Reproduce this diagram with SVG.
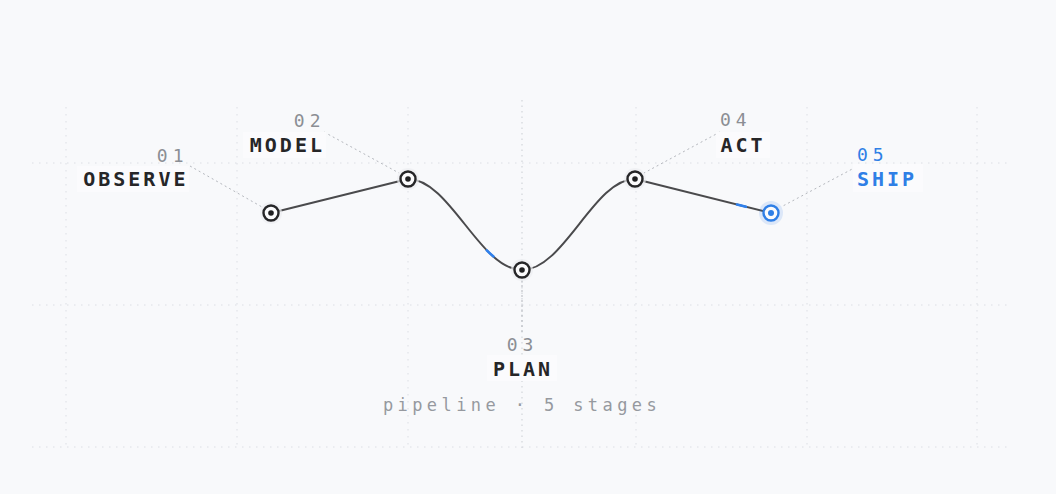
<svg xmlns="http://www.w3.org/2000/svg" width="1056" height="494" viewBox="0 0 1056 494">
<defs>
<style>
.grid{stroke:#dcdfe4;stroke-width:1;stroke-dasharray:1.5 5.5;fill:none}
.axis{stroke:#d2d5da;stroke-width:1.2;stroke-dasharray:1.5 4;fill:none}
.lead{stroke:#b4b7bd;stroke-width:1;stroke-dasharray:2 3;fill:none}
.edge{stroke:#4a4a4c;stroke-width:2;fill:none;stroke-linecap:round}
.pulse{stroke:#2f80ed;stroke-width:2.6;fill:none;stroke-linecap:round}
.ring{fill:#fbfbfc;stroke:#262628;stroke-width:2.4}
.dot{fill:#1f1f21}
.halo{fill:#eceef1;opacity:0.7}
.name{font-family:"DejaVu Sans Mono","Liberation Mono",monospace;font-weight:bold;font-size:20px;letter-spacing:3px;fill:#262628}
.num{font-family:"DejaVu Sans Mono","Liberation Mono",monospace;font-size:18px;letter-spacing:5px;fill:#8b8e94}
.blue{fill:#2f7fe6}
.cap{font-family:"DejaVu Sans Mono","Liberation Mono",monospace;font-size:17px;letter-spacing:4.4px;fill:#96999f}
.bg{fill:#fbfbfd}
</style>
</defs>
<rect width="1056" height="494" fill="#f8f9fb"/>
<g id="grid">
<line class="grid" x1="32" y1="163" x2="1010" y2="163"/>
<line class="grid" x1="32" y1="305" x2="1010" y2="305"/>
<line class="grid" x1="32" y1="447" x2="1010" y2="447"/>
<line class="grid" x1="66" y1="107" x2="66" y2="448"/>
<line class="grid" x1="237" y1="107" x2="237" y2="448"/>
<line class="grid" x1="408" y1="107" x2="408" y2="448"/>
<line class="grid" x1="636" y1="107" x2="636" y2="448"/>
<line class="grid" x1="807" y1="107" x2="807" y2="448"/>
<line class="grid" x1="977" y1="107" x2="977" y2="448"/>
<line class="axis" x1="522" y1="100" x2="522" y2="450"/>
</g>
<g id="leaders">
<line class="lead" x1="190" y1="166" x2="262" y2="207"/>
<line class="lead" x1="324" y1="132" x2="399" y2="173"/>
<line class="lead" x1="522" y1="280" x2="522" y2="334"/>
<line class="lead" x1="720" y1="132" x2="644" y2="173"/>
<line class="lead" x1="856" y1="167" x2="781" y2="207"/>
</g>
<g id="connectors">
<line class="edge" x1="271" y1="213" x2="408" y2="179"/>
<path class="edge" d="M408 179 C450 179 480 270 522 270"/>
<path class="edge" d="M522 270 C564 270 594 179 635 179"/>
<line class="edge" x1="635" y1="179" x2="771" y2="213"/>
<path class="pulse" d="M486.8 250.3 Q490.5 254 493.5 256.4"/>
<line class="pulse" x1="737" y1="204.5" x2="746" y2="206.8"/>
</g>
<g id="node-observe">
<rect class="bg" x="77" y="166" width="112" height="26"/>
<text class="num" x="188.5" y="162" text-anchor="end">01</text>
<text class="name" x="188.5" y="186" text-anchor="end">OBSERVE</text>
<circle class="halo" cx="271" cy="213" r="11"/>
<circle class="ring" cx="271" cy="213" r="7.5"/>
<circle class="dot" cx="271" cy="213" r="2.8"/>
</g>
<g id="node-model">
<rect class="bg" x="243" y="132" width="83" height="26"/>
<text class="num" x="325.5" y="127" text-anchor="end">02</text>
<text class="name" x="325" y="152" text-anchor="end">MODEL</text>
<circle class="halo" cx="408" cy="179" r="11"/>
<circle class="ring" cx="408" cy="179" r="7.5"/>
<circle class="dot" cx="408" cy="179" r="2.8"/>
</g>
<g id="node-plan">
<rect class="bg" x="487" y="355" width="70" height="26"/>
<text class="num" x="522.5" y="351" text-anchor="middle">03</text>
<text class="name" x="523" y="376" text-anchor="middle">PLAN</text>
<circle class="halo" cx="522" cy="270" r="11"/>
<circle class="ring" cx="522" cy="270" r="7.5"/>
<circle class="dot" cx="522" cy="270" r="2.8"/>
</g>
<g id="node-act">
<rect class="bg" x="716" y="132" width="54" height="26"/>
<text class="num" x="720" y="126">04</text>
<text class="name" x="720.5" y="152">ACT</text>
<circle class="halo" cx="635" cy="179" r="11"/>
<circle class="ring" cx="635" cy="179" r="7.5"/>
<circle class="dot" cx="635" cy="179" r="2.8"/>
</g>
<g id="node-ship">
<rect class="bg" x="853" y="164" width="70" height="28"/>
<text class="num blue" x="857" y="161">05</text>
<text class="name blue" x="857" y="186">SHIP</text>
<circle cx="771" cy="213" r="12" fill="#2f80ed" opacity="0.14"/>
<circle cx="771" cy="213" r="7.5" fill="#fbfbfc" stroke="#2f7fe6" stroke-width="2.4"/>
<circle cx="771" cy="213" r="3" fill="#2f7fe6"/>
</g>
<g id="caption">
<text class="cap" x="522" y="411" text-anchor="middle">pipeline · 5 stages</text>
</g>
</svg>
